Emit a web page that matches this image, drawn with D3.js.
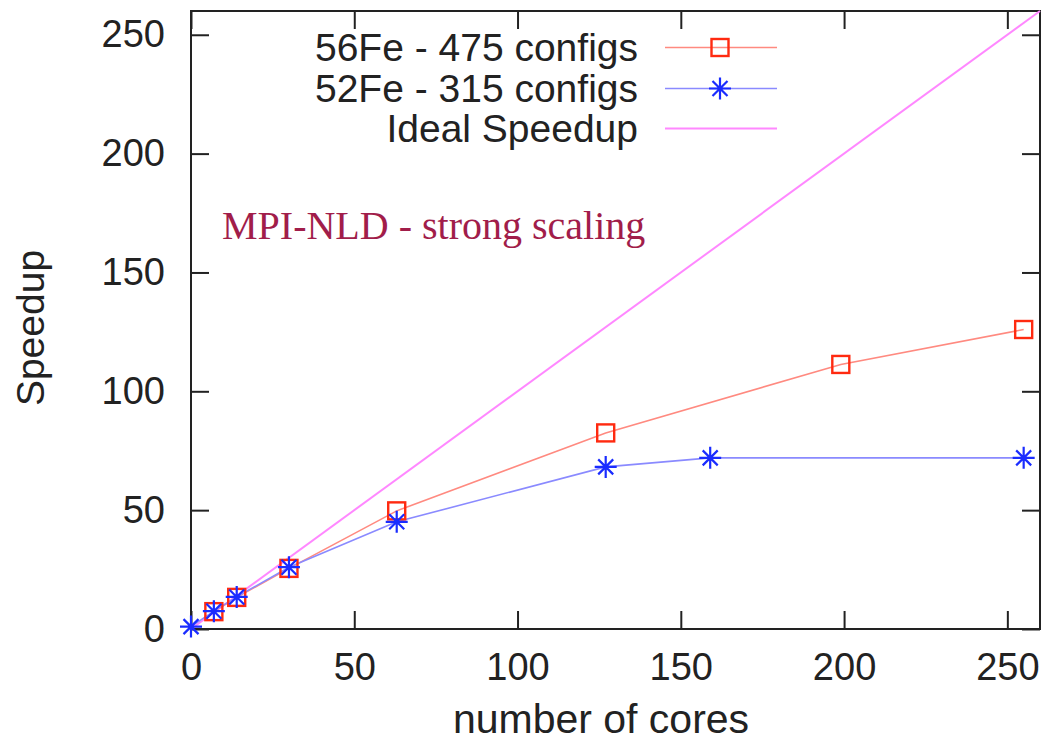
<!DOCTYPE html>
<html>
<head>
<meta charset="utf-8">
<script src="https://cdn.jsdelivr.net/npm/d3@7"></script>
<style>
  body { margin: 0; background: #fff; }
  svg { display: block; }
  .axis text { font-family: "Liberation Sans", Arial, sans-serif; font-size: 38px; fill: #222; }
  .axis line { stroke: #222; stroke-width: 2px; }
  .label { font-family: "Liberation Sans", Arial, sans-serif; font-size: 39px; fill: #222; }
</style>
</head>
<body>
<div id="plot-area"></div>
<script>
// measured data (x = worker cores, y = speedup)
const coresFe56 = [7, 14, 30, 63, 127, 199, 255];
const speedupFe56 = [7.3, 13.3, 25.5, 49.7, 82.5, 111.3, 126];
const coresFe52 = [0, 7, 14, 30, 63, 127, 159, 255];
const speedupFe52 = [1, 7.5, 13.5, 26, 45.1, 68.2, 72, 72];
const coresIdeal = [0, 260];
const speedupIdeal = [0, 260];

const xTicks = [0, 50, 100, 150, 200, 250];
const yTicks = [0, 50, 100, 150, 200, 250];
const legendLabels = ["56Fe - 475 configs", "52Fe - 315 configs", "Ideal Speedup"];

const W = 1047, H = 744;
const margin = {top: 11, right: 7, bottom: 115, left: 191};
const width = W - margin.left - margin.right,
    height = H - margin.top - margin.bottom;

const svg = d3.select("#plot-area").append("svg")
    .attr("width", W)
    .attr("height", H);

const g = svg.append("g").attr("transform", "translate(" + margin.left + "," + margin.top + ")");

const x = d3.scaleLinear().domain([0, 260]).range([0, width]);
const y = d3.scaleLinear().domain([0, 260]).range([height, 0]);

// axes, gnuplot style: inward ticks mirrored on all sides
g.append("g").attr("class", "axis")
    .attr("transform", "translate(0," + height + ")")
    .call(d3.axisBottom(x).tickValues(xTicks).tickSizeInner(-18).tickSizeOuter(0).tickPadding(24))
    .call(a => a.select(".domain").remove())
    .call(a => a.selectAll("text").attr("fill", "#222"));

g.append("g").attr("class", "axis")
    .call(d3.axisLeft(y).tickValues(yTicks).tickSizeInner(-18).tickSizeOuter(0).tickPadding(26))
    .call(a => a.select(".domain").remove())
    .call(a => a.selectAll("text").attr("fill", "#222"));

g.append("g").attr("class", "axis")
    .call(d3.axisTop(x).tickValues(xTicks).tickSizeInner(-18).tickSizeOuter(0).tickFormat(""))
    .call(a => a.select(".domain").remove());

g.append("g").attr("class", "axis")
    .attr("transform", "translate(" + width + ",0)")
    .call(d3.axisRight(y).tickValues(yTicks).tickSizeInner(-18).tickSizeOuter(0).tickFormat(""))
    .call(a => a.select(".domain").remove());

g.append("rect")
    .attr("width", width).attr("height", height)
    .attr("fill", "none").attr("stroke", "#222").attr("stroke-width", 2);

// axis titles
svg.append("text").attr("class", "label")
    .attr("x", 601).attr("y", 733)
    .attr("text-anchor", "middle")
    .style("font-size", "41px")
    .text("number of cores");

svg.append("text").attr("class", "label")
    .attr("transform", "translate(44,328) rotate(-90)")
    .attr("text-anchor", "middle")
    .text("Speedup");

// series
const line = d3.line().x(d => x(d[0])).y(d => y(d[1]));
const ideal = d3.zip(coresIdeal, speedupIdeal);
const fe56 = d3.zip(coresFe56, speedupFe56);
const fe52 = d3.zip(coresFe52, speedupFe52);

g.append("path").datum(ideal).attr("d", line)
    .attr("fill", "none").attr("stroke", "#ff88ff").attr("stroke-width", 2);
g.append("path").datum(fe56).attr("d", line)
    .attr("fill", "none").attr("stroke", "#ff8a80").attr("stroke-width", 1.6);
g.append("path").datum(fe52).attr("d", line)
    .attr("fill", "none").attr("stroke", "#8a8aff").attr("stroke-width", 1.6);

function square(sel) {
    sel.append("rect")
        .attr("x", -8.5).attr("y", -8.5).attr("width", 17).attr("height", 17)
        .attr("fill", "none").attr("stroke", "#ff2a10").attr("stroke-width", 2.4);
}
function star(sel) {
    const r = 11, d = 7.5;
    sel.append("path")
        .attr("d", "M" + (-r) + ",0H" + r + "M0," + (-r) + "V" + r +
            "M" + (-d) + "," + (-d) + "L" + d + "," + d + "M" + (-d) + "," + d + "L" + d + "," + (-d))
        .attr("stroke", "#1a2cff").attr("stroke-width", 2.2).attr("fill", "none");
}

g.selectAll(".sq").data(fe56).join("g").attr("class", "sq")
    .attr("transform", d => "translate(" + x(d[0]) + "," + y(d[1]) + ")")
    .call(square);
g.selectAll(".st").data(fe52).join("g").attr("class", "st")
    .attr("transform", d => "translate(" + x(d[0]) + "," + y(d[1]) + ")")
    .call(star);

// legend
const legendColors = ["#ff8a80", "#8a8aff", "#ff88ff"];
const legendY = [47.5, 88.5, 128.5];
legendLabels.forEach(function (lab, i) {
    const row = svg.append("g").attr("transform", "translate(0," + legendY[i] + ")");
    row.append("text").attr("class", "label")
        .attr("x", 638).attr("dy", "0.35em")
        .attr("text-anchor", "end")
        .text(lab);
    row.append("line")
        .attr("x1", 665).attr("x2", 777)
        .attr("stroke", legendColors[i]).attr("stroke-width", i === 2 ? 2 : 1.6);
    const m = row.append("g").attr("transform", "translate(720,0)");
    if (i === 0) square(m);
    if (i === 1) star(m);
});

// annotation
svg.append("text")
    .attr("x", 222).attr("y", 239)
    .style("font-family", "'Liberation Serif', 'Times New Roman', serif")
    .style("font-size", "40px")
    .attr("fill", "#a11d4a")
    .text("MPI-NLD - strong scaling");
</script>
</body>
</html>
